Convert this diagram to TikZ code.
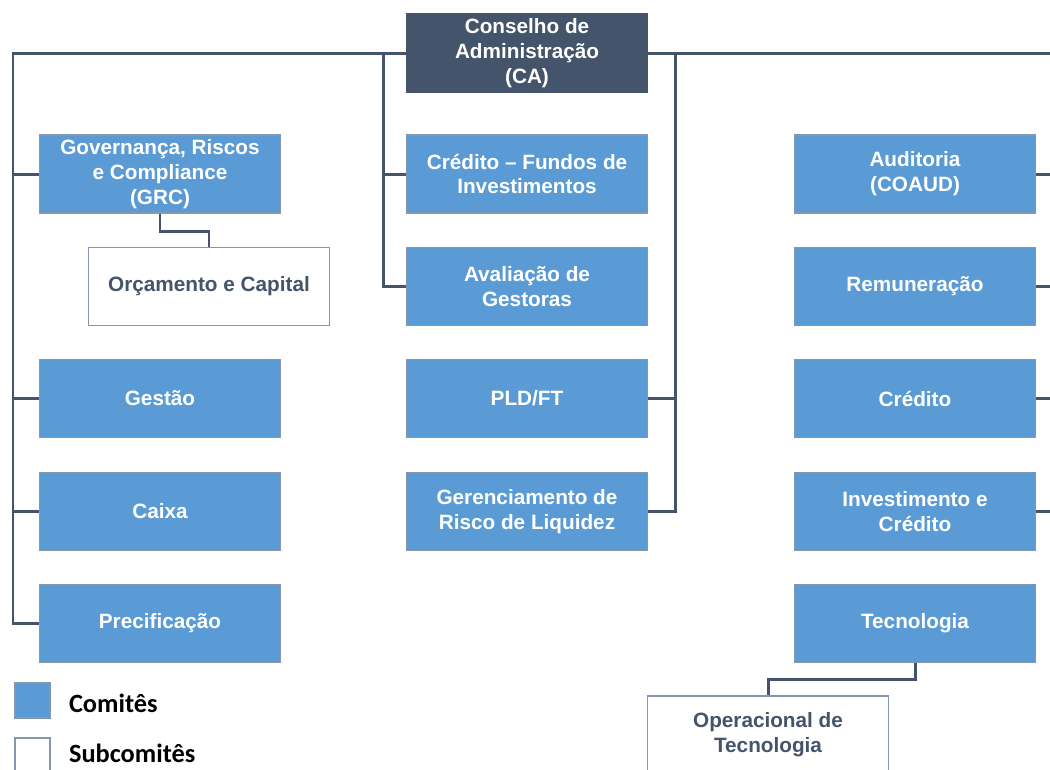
\documentclass[tikz,border=0pt]{standalone}
\usepackage{fontspec}
\setmainfont{Liberation Sans}
\newfontfamily\legendfont{Carlito}
\usepackage{tikz}
\usetikzlibrary{positioning}
\definecolor{comiteblue}{HTML}{5B9BD5}
\definecolor{slate}{HTML}{44546A}
\definecolor{boxframe}{HTML}{8497B0}

\begin{document}
\begin{tikzpicture}[x=0.02cm,y=-0.02cm,
        comite/.style={draw=boxframe,fill=comiteblue,text=white,line width=0.8pt,
            minimum width=4.82cm,minimum height=1.56cm,inner sep=0pt,align=center,
            font=\fontsize{11.8}{14.2}\selectfont\bfseries},
        subcomite/.style={comite,fill=white,text=slate},
        link/.style={draw=slate,line width=1.7pt},
        legendtext/.style={inner sep=0pt,font=\legendfont\fontsize{15}{18}\selectfont\bfseries}]
    \useasboundingbox (0,0) rectangle (1050,769);

    \node[comite,fill=slate,draw=slate] (ca) at (527,53) {Conselho de\\Administração\\(CA)};

    % left column
    \node[comite] (grc) at (160,174) {Governança, Riscos\\e Compliance\\(GRC)};
    \node[subcomite] (orc) at (209,286.5) {Orçamento e Capital};
    \node[comite] (gestao) at (160,398.5) {Gestão};
    \node[comite] (caixa) at (160,511.5) {Caixa};
    \node[comite] (prec) at (160,623.5) {Precificação};

    % middle column
    \node[comite] (credfi) at (527,174) {Crédito – Fundos de\\Investimentos};
    \node[comite] (aval) at (527,286.5) {Avaliação de\\Gestoras};
    \node[comite] (pld) at (527,398.5) {PLD/FT};
    \node[comite] (ger) at (527,511.5) {Gerenciamento de\\Risco de Liquidez};

    % right column
    \node[comite] (aud) at (915,174) {Auditoria\\(COAUD)};
    \node[comite] (rem) at (915,286.5) {Remuneração};
    \node[comite] (cred) at (915,398.5) {Crédito};
    \node[comite] (inv) at (915,511.5) {Investimento e\\Crédito};
    \node[comite] (tec) at (915,623.5) {Tecnologia};
    \node[subcomite] (opt) at (768,735) {Operacional de\\Tecnologia};

    % legend
    \node[comite,minimum width=0.7cm,minimum height=0.7cm] (legc) at (32.5,700.5) {};
    \node[subcomite,minimum width=0.7cm,minimum height=0.7cm] (legs) at (32.5,755.5) {};
    \node[legendtext,right=0.36cm of legc,yshift=-0.06cm] (legctext) {Comitês};
    \node[legendtext,right=0.36cm of legs,yshift=0.04cm] (legstext) {Subcomitês};

    \coordinate (lbus) at (13,53);
    \coordinate (mlbus) at (383,53);
    \coordinate (mrbus) at (675,53);
    \coordinate (rbus) at (1050,53);

    \draw[link] (ca.west) -- (lbus) |- (prec.west);
    \foreach \n in {grc,gestao,caixa}
        \draw[link] (lbus |- \n.west) -- (\n.west);
    \draw[link] (mlbus) |- (aval.west);
    \draw[link] (mlbus |- credfi.west) -- (credfi.west);
    \draw[link] (ca.east) -- (rbus);
    \draw[link] (mrbus) |- (ger.east);
    \draw[link] (mrbus |- pld.east) -- (pld.east);
    \foreach \n in {aud,rem,cred,inv}
        \draw[link] (\n.east) -- (\n.east -| rbus);
    \draw[link] (grc.south) -- ++(0,18) -| (orc.north);
    \draw[link] (tec.south) -- ++(0,16) -| (opt.north);
\end{tikzpicture}
\end{document}
